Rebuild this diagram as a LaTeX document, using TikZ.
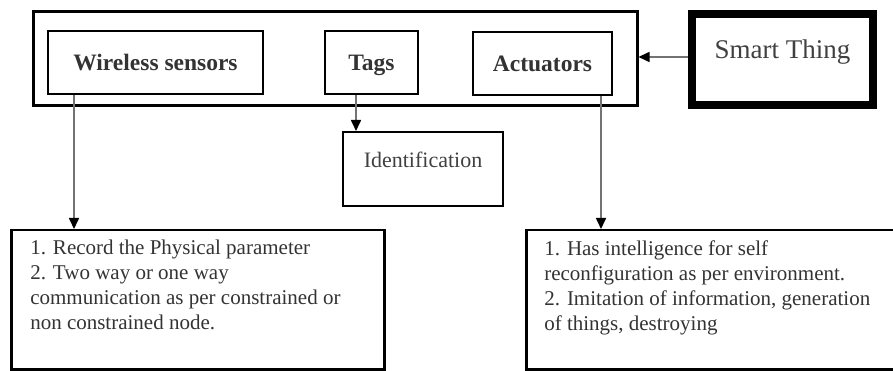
\documentclass[tikz,border=0pt]{standalone}
\usepackage{fontspec}
\setmainfont{Liberation Serif}
\usetikzlibrary{arrows.meta}
\tikzset{pin/.style={-{Triangle[length=11pt,width=10pt,color=black]}, line width=1.6pt, draw=black!55},
  blk/.style={draw, line width=2pt, inner sep=0pt},
  lbl/.style={font=\bfseries\fontsize{23.5}{26}\selectfont, text=black!80, text height=22pt, text depth=6pt},
  note/.style={draw, line width=2.5pt, anchor=north west, inner xsep=19pt, inner ysep=10pt,
    font=\fontsize{21}{25}\selectfont, text=black!80}}

\begin{document}
\begin{tikzpicture}[x=1pt, y=-1pt]
  \useasboundingbox (0,0) rectangle (893,371);
  % the thing and its parts
  \node[blk, line width=3pt, minimum width=604pt, minimum height=94pt] (thing) at (335,59) {};
  \node[blk, lbl, minimum width=215pt, minimum height=63pt] (ws) at (155.5,62.5) {Wireless sensors\hspace{8pt}};
  \node[blk, lbl, minimum width=93pt, minimum height=63pt] (tags) at (371.5,62.5) {Tags\hspace{6pt}};
  \node[blk, lbl, minimum width=139pt, minimum height=63pt] (act) at (542.5,63.5) {Actuators\hspace{5pt}};
  % smart thing on the right
  \node[blk, line width=8pt, minimum width=181pt, minimum height=91pt, font=\fontsize{27}{30}\selectfont, text=black!75, text depth=21pt] (smart) at (782.5,59.5) {Smart Thing};
  \draw[pin] (smart.west) ++(0,2.5pt) coordinate (st) -- (st -| thing.east);
  % what the parts do
  \node[blk, minimum width=160pt, minimum height=74pt, font=\fontsize{22}{26}\selectfont, text=black!75, text depth=19pt] (idf) at (423,169) {Identification};
  \node[note] (rec) at (10,229) {\parbox[c][119pt][t]{335pt}{1. Record the Physical parameter\\
    2. Two way or one way\\
    communication as per constrained or\\
    non constrained node.}};
  \node[note, inner xsep=18pt] (intel) at (525,229) {\parbox[c][119pt][t]{345pt}{1. Has intelligence for self\\
    reconfiguration as per environment.\\
    2. Imitation of information, generation\\
    of things, destroying}};
  \draw[pin] ([xshift=27pt]ws.south west) coordinate (a1) -- (a1 |- rec.north);
  \draw[pin] ([xshift=32pt]tags.south west) coordinate (a2) -- (a2 |- idf.north);
  \draw[pin] ([xshift=-12pt]act.south east) coordinate (a3) -- (a3 |- intel.north);
\end{tikzpicture}
\end{document}
